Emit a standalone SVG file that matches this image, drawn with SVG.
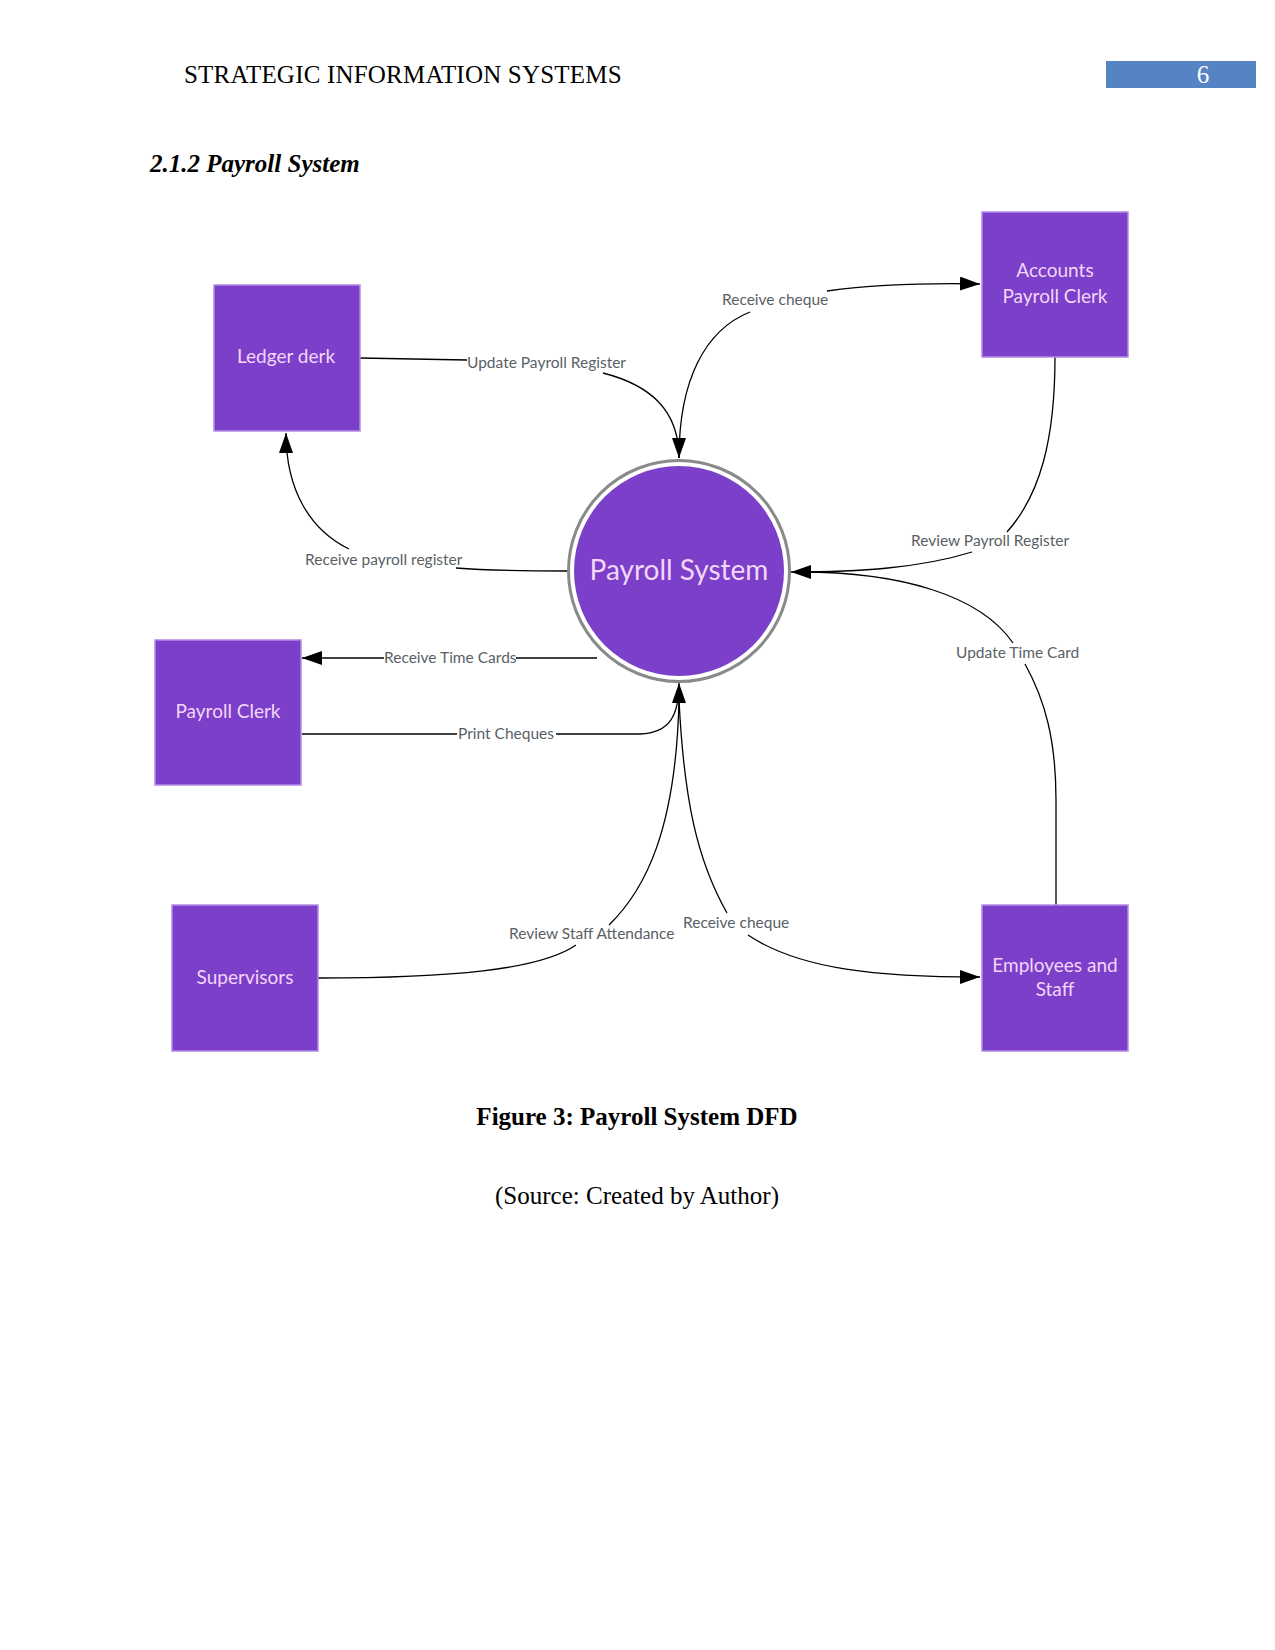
<svg xmlns="http://www.w3.org/2000/svg" width="1275" height="1650" viewBox="0 0 1275 1650">
<defs>
<style>
.page{font-family:"Liberation Serif","Times New Roman",serif;font-size:25px;fill:#000}
.node rect{fill:#7b3fca;stroke:#b48ae6;stroke-width:1.5}
.ntxt{font-family:Lato,"Liberation Sans",sans-serif;font-size:19px;fill:#f3d6f8;text-anchor:middle}
.lbl{font-family:Lato,"Liberation Sans",sans-serif;font-size:15.5px;fill:#5a5f66}
.c{fill:none;stroke:#000;stroke-width:1.3}
</style>
<marker id="arr" viewBox="0 0 20 14" refX="20" refY="7" markerWidth="20" markerHeight="14" markerUnits="userSpaceOnUse" orient="auto">
<path d="M0,0 L20,7 L0,14 Z" fill="#000"/>
</marker>
</defs>
<rect width="1275" height="1650" fill="#fff"/>

<text class="page" x="184" y="83" letter-spacing="0.2">STRATEGIC INFORMATION SYSTEMS</text>
<rect x="1106" y="61" width="150" height="27" fill="#5583c4"/>
<text class="page" x="1203" y="83" style="fill:#fff" text-anchor="middle">6</text>
<text class="page" x="150" y="172" font-weight="bold" font-style="italic">2.1.2 Payroll System</text>

<g id="connectors">
<path class="c" d="M360 358 L467 360"/>
<path class="c" d="M603 373 C650 385 679 410 679 458" marker-end="url(#arr)"/>
<path class="c" d="M679 458 C679 380 705 330 750 312"/>
<path class="c" d="M827 291 C880 284 930 283 980 284" marker-end="url(#arr)"/>
<path class="c" d="M1055 357 C1055 440 1040 495 1007 532"/>
<path class="c" d="M972 552 C920 568 860 572 791 572" marker-end="url(#arr)"/>
<path class="c" d="M1056 905 L1056 800 C1056 740 1045 700 1025 664"/>
<path class="c" d="M1013 643 C980 595 900 572 800 572"/>
<path class="c" d="M567 571 C520 571 480 570 456 568"/>
<path class="c" d="M349 549 C310 530 286 490 286 433" marker-end="url(#arr)"/>
<path class="c" d="M597 658 L516 658"/>
<path class="c" d="M384 658 L302 658" marker-end="url(#arr)"/>
<path class="c" d="M302 734 L457 734"/>
<path class="c" d="M556 734 L640 734 C670 733 679 715 679 683" marker-end="url(#arr)"/>
<path class="c" d="M318 978 C450 978 540 970 576 945"/>
<path class="c" d="M609 925 C645 890 676 830 679 700"/>
<path class="c" d="M679 700 C684 800 697 860 727 913"/>
<path class="c" d="M748 935 C800 970 880 977 980 977" marker-end="url(#arr)"/>
<text class="lbl" x="467" y="368">Update Payroll Register</text>
<text class="lbl" x="722" y="305">Receive cheque</text>
<text class="lbl" x="911" y="546">Review Payroll Register</text>
<text class="lbl" x="956" y="658">Update Time Card</text>
<text class="lbl" x="305" y="565">Receive payroll register</text>
<text class="lbl" x="384" y="663">Receive Time Cards</text>
<text class="lbl" x="458" y="739">Print Cheques</text>
<text class="lbl" x="509" y="939">Review Staff Attendance</text>
<text class="lbl" x="683" y="928">Receive cheque</text>
</g>

<g id="payroll-system">
<circle cx="679" cy="571" r="110.5" fill="#fff" stroke="#8a8a8a" stroke-width="3"/>
<circle cx="679" cy="571" r="105" fill="#7b3fca"/>
<text x="679" y="580" font-family="Lato,'Liberation Sans',sans-serif" font-size="28" fill="#f3d6f8" text-anchor="middle">Payroll System</text>
</g>

<g id="ledger-clerk" class="node">
<rect x="214" y="285" width="146" height="146"/>
<text class="ntxt" x="286" y="363">Ledger derk</text>
</g>
<g id="accounts-payroll-clerk" class="node">
<rect x="982" y="212" width="146" height="145"/>
<text class="ntxt" x="1055" y="277">Accounts</text>
<text class="ntxt" x="1055" y="303">Payroll Clerk</text>
</g>
<g id="payroll-clerk" class="node">
<rect x="155" y="640" width="146" height="145"/>
<text class="ntxt" x="228" y="718">Payroll Clerk</text>
</g>
<g id="supervisors" class="node">
<rect x="172" y="905" width="146" height="146"/>
<text class="ntxt" x="245" y="984">Supervisors</text>
</g>
<g id="employees-and-staff" class="node">
<rect x="982" y="905" width="146" height="146"/>
<text class="ntxt" x="1055" y="972">Employees and</text>
<text class="ntxt" x="1055" y="996">Staff</text>
</g>

<text class="page" x="637" y="1125" font-weight="bold" text-anchor="middle">Figure 3: Payroll System DFD</text>
<text class="page" x="637" y="1204" text-anchor="middle">(Source: Created by Author)</text>
</svg>
